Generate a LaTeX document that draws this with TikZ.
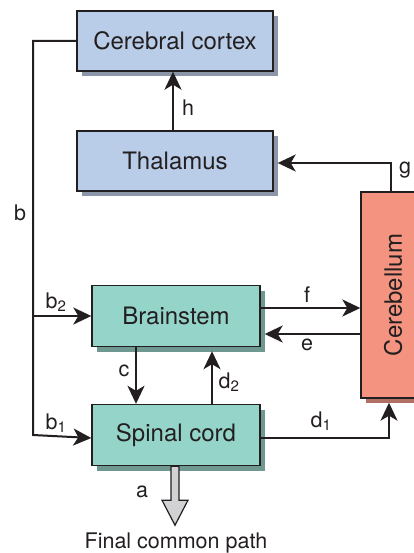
\documentclass[tikz,border=0pt]{standalone}
\usepackage{fontspec}
\setmainfont{TeX Gyre Heros}
\usepackage{tikz}
\usetikzlibrary{arrows.meta, shadows, calc}

\definecolor{boxblue}{RGB}{185,205,232}
\definecolor{shadeblue}{RGB}{139,150,168}
\definecolor{boxgreen}{RGB}{148,212,201}
\definecolor{shadegreen}{RGB}{111,152,145}
\definecolor{boxsalmon}{RGB}{244,148,128}
\definecolor{shadesalmon}{RGB}{176,112,100}
\definecolor{inkline}{RGB}{35,31,32}
\definecolor{pathgray}{RGB}{210,210,212}

\begin{document}
\begin{tikzpicture}[x=1pt, y=-1pt,
    region/.style={draw=inkline, line width=1.4pt, rectangle, inner sep=0pt,
        font=\fontsize{24}{28}\selectfont, text=inkline},
    upper/.style={region, fill=boxblue, minimum width=196pt, minimum height=60pt,
        drop shadow={fill=shadeblue, opacity=1, shadow xshift=5pt, shadow yshift=-5pt}},
    lower/.style={region, fill=boxgreen, minimum width=168pt, minimum height=61pt,
        drop shadow={fill=shadegreen, opacity=1, shadow xshift=5pt, shadow yshift=-5pt}},
    conn/.style={draw=inkline, line width=2pt, -{Stealth[length=18pt, width=17pt, inset=5pt]}},
    tag/.style={font=\fontsize{21.5}{25}\selectfont, text=inkline, inner sep=0pt}]

    \useasboundingbox (0,0) rectangle (414,553);

    % Blocks
    \node[upper] (cortex) at (175,41) {Cerebral cortex};
    \node[upper] (thal) at (175,161) {Thalamus};
    \node[lower] (brain) at (176,316) {Brainstem};
    \node[lower] (spinal) at (176,435) {Spinal cord};
    \node[region, fill=boxsalmon, minimum width=64pt, minimum height=206pt,
        drop shadow={fill=shadesalmon, opacity=1, shadow xshift=5pt, shadow yshift=-5pt}]
        (cereb) at (393,295) {\rotatebox{90}{Cerebellum}};

    % Descending path b with branches b1, b2
    \coordinate (bx) at (33,0);
    \draw[conn] (cortex.west) -| (bx |- spinal.west) -- ([yshift=-3pt]spinal.west);
    \draw[conn] (bx |- brain.west) -- (brain.west);

    % Brainstem <-> cerebellum
    \draw[conn] ([yshift=8pt]brain.east) -- ([yshift=8pt]brain.east -| cereb.west);
    \draw[conn] ([yshift=-18pt]brain.east -| cereb.west) -- ([xshift=4pt, yshift=-18pt]brain.east);

    % Brainstem <-> spinal cord
    \draw[conn] ([xshift=-40pt]brain.south) -- ([xshift=-40pt]spinal.north);
    \draw[conn] ([xshift=36pt]spinal.north) -- ([xshift=36pt, yshift=-4pt]brain.south);

    % Spinal cord -> cerebellum, cerebellum -> thalamus -> cortex
    \draw[conn] ([yshift=-3pt]spinal.east) -| ([xshift=-4pt, yshift=-4pt]cereb.south);
    \draw[conn] ([xshift=-2pt]cereb.north) |- ([xshift=4pt, yshift=-2pt]thal.east);
    \draw[conn] ([xshift=-2pt]thal.north) -- ([xshift=-2pt]cortex.south);

    % Final common path
    \draw[draw=inkline, line width=1.2pt, fill=pathgray, line join=miter]
        ([xshift=-5pt]spinal.south) -- ++(0,34) -- ++(-9,0) -- ++(13,25)
        -- ++(13,-25) -- ++(-9,0) -- ++(0,-34) -- cycle;

    % Labels
    \node[tag] (lh) at (188,108) {h};
    \node[tag] (lg) at (405,170) {g};
    \node[tag] (lb) at (20,213) {b};
    \node[tag] (lb2) at (56,302) {b\textsubscript{2}};
    \node[tag] (lf) at (307,295) {f};
    \node[tag] (le) at (307,345) {e};
    \node[tag] (lc) at (124,371) {c};
    \node[tag] (ld2) at (229,382) {d\textsubscript{2}};
    \node[tag] (lb1) at (56,423) {b\textsubscript{1}};
    \node[tag] (ld1) at (321,421) {d\textsubscript{1}};
    \node[tag] (la) at (142,492) {a};
    \node[tag] (lfinal) at (176,543) {Final common path};
\end{tikzpicture}
\end{document}
